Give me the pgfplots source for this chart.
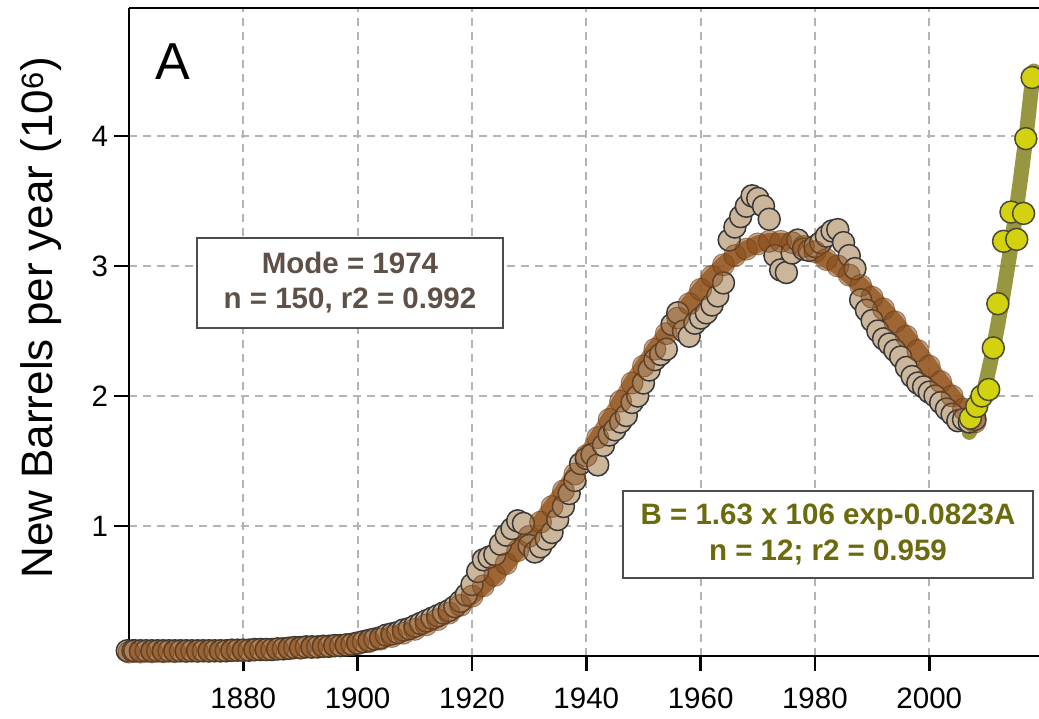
\documentclass[border=0pt]{standalone}
\usepackage{fontspec}
\setmainfont{Liberation Sans}
\usepackage{pgfplots}
\pgfplotsset{compat=1.18}
\usepackage{pgfplotstable}
\definecolor{tanfill}{RGB}{203,182,156}
\definecolor{brownband}{RGB}{163,98,40}
\definecolor{brownmark}{RGB}{135,76,25}
\definecolor{olive2}{RGB}{140,140,45}
\definecolor{yel}{RGB}{210,210,15}
\definecolor{modetxt}{RGB}{95,80,71}
\definecolor{olivetxt}{RGB}{107,107,14}
\definecolor{gridgray}{RGB}{180,180,180}

\pgfplotstableread{
x y
1859.7 0.04
1860.7 0.04
1861 0.04
1862 0.04
1863 0.04
1864 0.04
1865 0.04
1866 0.04
1867 0.04
1868 0.04
1869 0.04
1870 0.04
1871 0.04
1872 0.04
1873 0.04
1874 0.04
1875 0.04
1876 0.04
1877 0.04
1878 0.045
1879 0.045
1880 0.045
1881 0.045
1882 0.05
1883 0.05
1884 0.05
1885 0.05
1886 0.055
1887 0.055
1888 0.06
1889 0.065
1890 0.065
1891 0.07
1892 0.07
1893 0.07
1894 0.075
1895 0.075
1896 0.08
1897 0.08
1898 0.085
1899 0.09
1900 0.10
1901 0.11
1902 0.12
1903 0.13
1904 0.14
1905 0.16
1906 0.17
1907 0.18
1908 0.20
1909 0.21
1910 0.23
1911 0.25
1912 0.27
1913 0.29
1914 0.31
1915 0.33
1916 0.35
1917 0.38
1918 0.42
1919 0.47
1920 0.55
1921 0.65
1922 0.74
1923 0.76
1924 0.78
1925 0.86
1926 0.93
1927 0.98
1928 1.04
1929 1.02
1930 0.85
1931 0.80
1932 0.84
1933 0.90
1934 0.95
1935 1.05
1936 1.15
1937 1.25
1938 1.35
1939 1.48
1940 1.52
1941 1.55
1942 1.47
1943 1.62
1944 1.70
1945 1.74
1946 1.80
1947 1.85
1948 1.95
1949 2.00
1950 2.10
1951 2.20
1952 2.28
1953 2.32
1954 2.36
1955 2.55
1956 2.64
1957 2.50
1958 2.46
1959 2.56
1960 2.60
1961 2.64
1962 2.70
1963 2.77
1964 2.87
1965 3.20
1966 3.30
1967 3.38
1968 3.46
1969 3.54
1970 3.52
1971 3.46
1972 3.36
1973 3.08
1974 2.97
1975 2.95
1976 3.10
1977 3.20
1978 3.13
1979 3.12
1980 3.15
1981 3.18
1982 3.23
1983 3.27
1984 3.28
1985 3.18
1986 3.08
1987 2.98
1988 2.74
1989 2.66
1990 2.58
1991 2.50
1992 2.44
1993 2.40
1994 2.35
1995 2.30
1996 2.22
1997 2.15
1998 2.10
1999 2.07
2000 2.03
2001 2.00
2002 1.95
2003 1.90
2004 1.86
2005 1.81
2006 1.82
2007 1.80
2008 1.82
}\datatable

\pgfplotstableread{
x y
1860 0.030
1862 0.030
1864 0.031
1866 0.032
1868 0.033
1870 0.034
1872 0.035
1874 0.036
1876 0.038
1878 0.040
1880 0.042
1882 0.045
1884 0.048
1886 0.052
1888 0.056
1890 0.060
1892 0.065
1894 0.071
1896 0.078
1898 0.086
1900 0.095
1902 0.11
1904 0.13
1906 0.15
1908 0.175
1910 0.205
1912 0.24
1914 0.28
1916 0.33
1918 0.39
1920 0.46
1922 0.54
1924 0.62
1926 0.71
1928 0.81
1930 0.92
1932 1.03
1934 1.15
1936 1.27
1938 1.40
1940 1.54
1942 1.68
1944 1.82
1946 1.96
1948 2.10
1950 2.23
1952 2.36
1954 2.48
1956 2.60
1958 2.71
1960 2.82
1962 2.92
1964 3.01
1966 3.08
1968 3.13
1970 3.17
1972 3.19
1974 3.19
1976 3.18
1978 3.15
1980 3.11
1982 3.05
1984 3.00
1986 2.93
1988 2.85
1990 2.76
1992 2.67
1994 2.57
1996 2.46
1998 2.35
2000 2.23
2002 2.11
2004 2.00
2006 1.90
2008 1.80
}\fittable

\pgfplotstableread{
x y
2007.0 1.72
2008.0 1.82
2009.0 1.95
2010.0 2.12
2011.0 2.32
2012.0 2.55
2013.0 2.80
2014.0 3.07
2015.0 3.36
2016.0 3.68
2017.0 4.02
2018.0 4.42
2018.3 4.50
}\olivetable

\pgfplotstableread{
x y
2007.2 1.83
2008.3 1.92
2009.2 2.00
2010.4 2.05
2011.2 2.37
2012.0 2.71
2013.0 3.19
2015.3 3.205
2014.3 3.415
2016.5 3.405
2016.9 3.98
2018.0 4.45
}\yellowtable

\begin{document}
\begin{tikzpicture}
\path[use as bounding box] (0,0) rectangle (1039pt,719pt);
\begin{axis}[
  at={(129pt,63pt)}, anchor=south west,
  scale only axis, width=910pt, height=648pt,
  xmin=1860, xmax=2019.2, ymin=0, ymax=4.985,
  axis x line*=box, axis y line*=left,
  axis line style={line width=2.5pt, black},
  clip=false,
  xtick={1880,1900,1920,1940,1960,1980,2000},
  ytick={1,2,3,4},
  xticklabels={}, yticklabels={},
  tick pos=left, tick align=outside,
  major tick length=15pt,
  tick style={line width=2.5pt, black},
  grid=major,
  major grid style={gridgray, line width=1.8pt, dash pattern=on 8pt off 6pt},
]
\addplot[brownband, opacity=0.8, line width=17pt, line cap=round, line join=round] table {\fittable};
\addplot[only marks, mark=*, mark size=11pt, mark options={fill=tanfill, draw=black!78, line width=1.5pt}] table {\datatable};
\addplot[only marks, mark=*, mark size=11pt, mark options={fill=brownmark, draw=brownmark!70!black, line width=1pt, opacity=0.5}] table {\fittable};
\addplot[olive2, opacity=0.9, line width=15pt, line cap=round, line join=round] table {\olivetable};
\addplot[only marks, mark=*, mark size=11pt, mark options={fill=yel, draw=black!60!olive, line width=1.5pt}] table {\yellowtable};
\end{axis}
\begin{scope}[every node/.style={font=\fontsize{29.5}{35}\selectfont}]
\node[anchor=base] at (243.3pt,10pt) {1880};
\node[anchor=base] at (357.6pt,10pt) {1900};
\node[anchor=base] at (472.0pt,10pt) {1920};
\node[anchor=base] at (586.3pt,10pt) {1940};
\node[anchor=base] at (700.6pt,10pt) {1960};
\node[anchor=base] at (814.9pt,10pt) {1980};
\node[anchor=base] at (929.3pt,10pt) {2000};
\node[anchor=base east] at (111.5pt,182.5pt) {1};
\node[anchor=base east] at (111.5pt,312.5pt) {2};
\node[anchor=base east] at (111.5pt,442.5pt) {3};
\node[anchor=base east] at (111.5pt,572.5pt) {4};
\end{scope}
\node[font=\fontsize{52}{60}\selectfont] at (173pt,657pt) {A};
\node[rotate=90, font=\fontsize{44}{50}\selectfont] at (41pt,401pt) {New Barrels per year (10\textsuperscript{6})};
\node[draw=black!70, line width=2.5pt, fill=white, minimum width=306pt, minimum height=90pt, align=center, text=modetxt, font=\bfseries\fontsize{29.5}{35}\selectfont] at (350pt,436pt) {Mode = 1974\\n = 150, r2 = 0.992};
\node[draw=black!70, line width=2.5pt, fill=white, minimum width=410pt, minimum height=87pt, align=center, text=olivetxt, font=\bfseries\fontsize{29.5}{36}\selectfont] at (828pt,184.5pt) {B = 1.63 x 106 exp-0.0823A\\n = 12; r2 = 0.959};
\end{tikzpicture}
\end{document}
